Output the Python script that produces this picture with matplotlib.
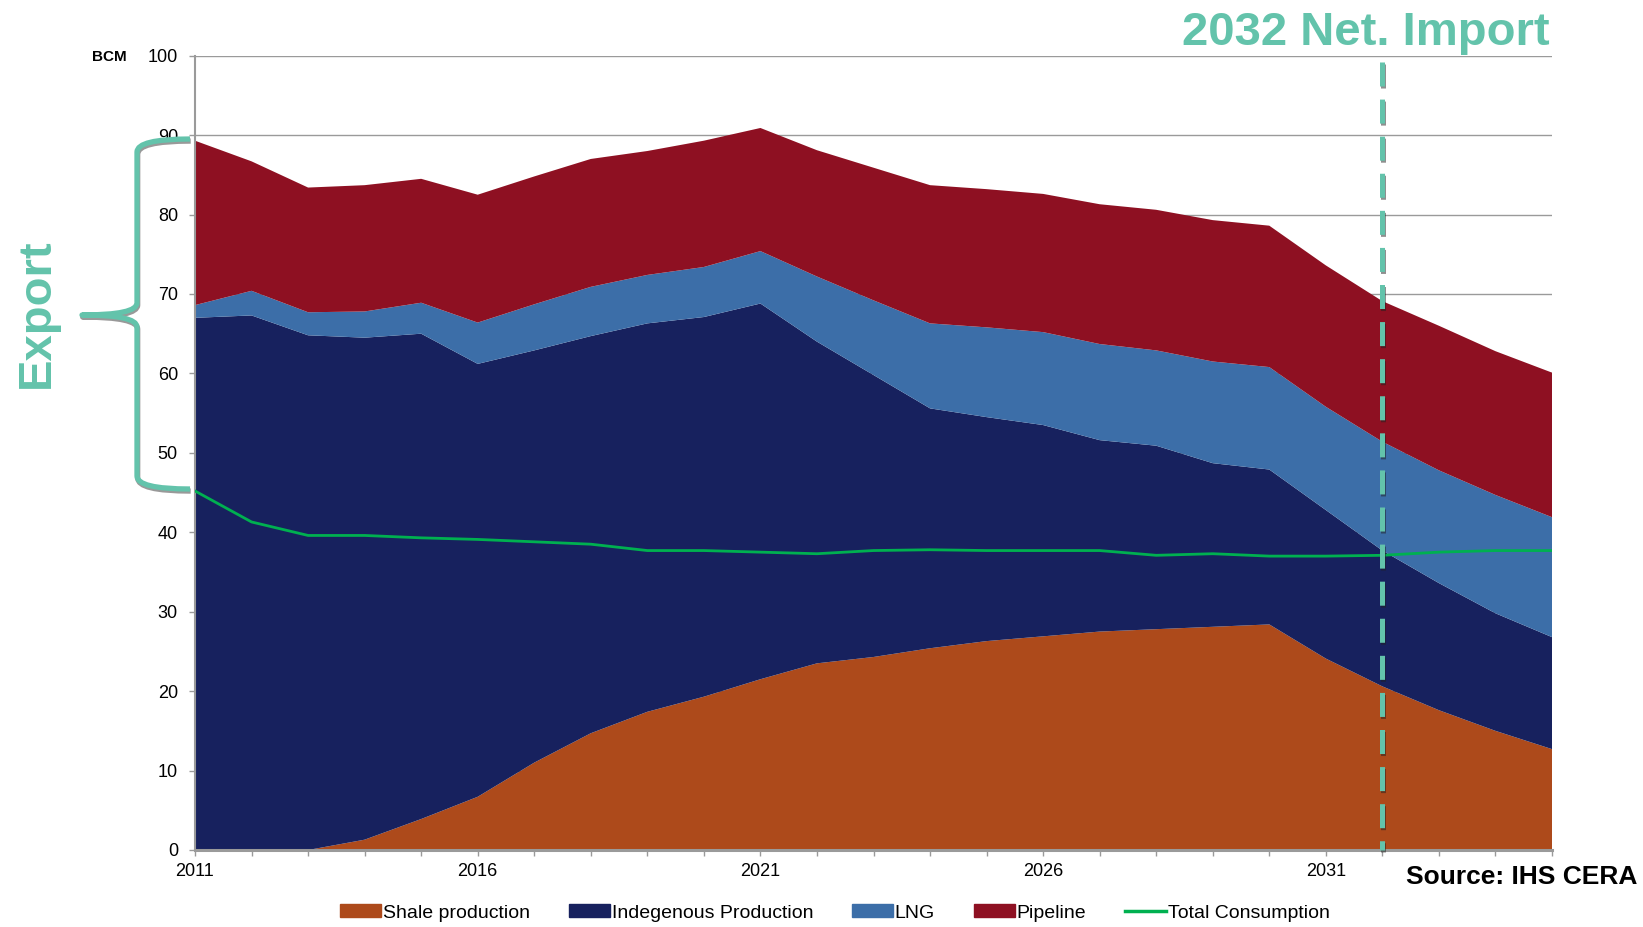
import matplotlib
matplotlib.use("Agg")
import matplotlib.pyplot as plt
import numpy as np
from matplotlib.path import Path
from matplotlib.patches import PathPatch, Patch
from matplotlib.lines import Line2D
import matplotlib.patheffects as pe

plt.rcParams['font.family'] = ['Liberation Sans', 'DejaVu Sans']
plt.rcParams['lines.scale_dashes'] = False

# ---------------- data ----------------
years = list(range(2011, 2036))
shale = [0, 0, 0, 1.3, 3.9, 6.7, 11.0, 14.7, 17.4, 19.3, 21.5, 23.5, 24.3,
         25.4, 26.3, 26.9, 27.5, 27.8, 28.1, 28.4, 24.1, 20.6, 17.6, 15.0, 12.7]
indigenous = [67.0, 67.3, 64.8, 63.2, 61.1, 54.5, 51.9, 50.0, 48.9, 47.8, 47.3,
              40.5, 35.5, 30.2, 28.2, 26.6, 24.1, 23.1, 20.6, 19.5, 18.7, 17.1,
              16.0, 14.8, 14.1]
lng = [1.6, 3.1, 2.9, 3.3, 3.9, 5.2, 5.8, 6.2, 6.1, 6.3, 6.6, 8.2, 9.4, 10.7,
       11.3, 11.7, 12.1, 12.0, 12.8, 12.9, 13.0, 13.7, 14.2, 14.9, 15.1]
pipeline = [20.7, 16.3, 15.7, 15.9, 15.6, 16.1, 16.1, 16.1, 15.6, 15.9, 15.5,
            15.9, 16.7, 17.4, 17.4, 17.4, 17.6, 17.7, 17.8, 17.8, 17.8, 17.7,
            18.2, 18.1, 18.2]
total_consumption = [45.2, 41.3, 39.6, 39.6, 39.3, 39.1, 38.8, 38.5, 37.7, 37.7,
                     37.5, 37.3, 37.7, 37.8, 37.7, 37.7, 37.7, 37.1, 37.3, 37.0,
                     37.0, 37.1, 37.5, 37.7, 37.7]
series_names = ["Shale production", "Indegenous Production", "LNG", "Pipeline",
                "Total Consumption"]
x_label_years = [2011, 2016, 2021, 2026, 2031]
y_ticks = list(range(0, 101, 10))
net_import_year = 2032

# ---------------- style ----------------
c_shale = '#AD4A1B'
c_indig = '#17215E'
c_lng = '#3C6EA8'
c_pipe = '#8E1022'
c_green = '#00B050'
c_teal = '#63C3AB'
c_grid = '#9A9A9A'

W, H = 1643, 927
fig = plt.figure(figsize=(W / 100, H / 100), dpi=100)
ax = fig.add_axes([195 / W, 1 - 850 / H, (1552 - 195) / W, (850 - 55.7) / H])

ax.stackplot(years, shale, indigenous, lng, pipeline,
             colors=[c_shale, c_indig, c_lng, c_pipe], linewidth=0, zorder=2)
ax.plot(years, total_consumption, color=c_green, lw=2.0, zorder=3)

ax.set_xlim(years[0], years[-1])
ax.set_ylim(0, 100)
ax.set_yticks(y_ticks)
ax.set_yticklabels([str(v) for v in y_ticks], fontsize=13)
ax.set_xticks(years)
ax.set_xticklabels([str(y) if y in x_label_years else '' for y in years], fontsize=13)
ax.tick_params(axis='y', direction='out', length=4.3, width=1, color=c_grid, pad=8)
ax.tick_params(axis='x', direction='out', length=4.3, width=1, color=c_grid, pad=5)
ax.grid(axis='y', color=c_grid, lw=1.0, zorder=1)
ax.set_axisbelow(True)
for s in ['top', 'right']:
    ax.spines[s].set_visible(False)
ax.spines['left'].set_color(c_grid)
ax.spines['left'].set_linewidth(1.5)
ax.spines['bottom'].set_color(c_grid)
ax.spines['bottom'].set_linewidth(2.2)
ax.spines['bottom'].set_zorder(4)

# dashed net import line
ax.plot([net_import_year, net_import_year], [99.2, 0], color=c_teal, lw=3.6,
        dashes=(17.3, 9.4), zorder=5, clip_on=False,
        path_effects=[pe.SimpleLineShadow(offset=(0.5, -1.5), shadow_color='#202020', alpha=0.5),
                      pe.Normal()])

# texts
fig.text(1549.5 / W, 1 - 45 / H, "2032 Net. Import", color=c_teal, fontsize=34,
         fontweight='bold', ha='right', va='baseline')
fig.text(127 / W, 1 - 57 / H, "BCM", fontsize=11, fontweight='bold',
         ha='right', va='center')
fig.text(1637 / W, 1 - 877 / H, "Source: IHS CERA", fontsize=19, fontweight='bold',
         ha='right', va='center')
fig.text(37 / W, 1 - 313 / H, "Export", color=c_teal, fontsize=34, fontweight='bold',
         rotation=90, ha='center', va='center')

# brace (figure pixel coords -> fraction)
pts = [(190, 139), (137, 139), (137, 152),
       (137, 303),
       (137, 315), (82, 315),
       (137, 315), (137, 327),
       (137, 476),
       (137, 489), (190, 489)]
codes = [Path.MOVETO, Path.CURVE3, Path.CURVE3,
         Path.LINETO,
         Path.CURVE3, Path.CURVE3,
         Path.CURVE3, Path.CURVE3,
         Path.LINETO,
         Path.CURVE3, Path.CURVE3]
verts = [(x / W, 1 - y / H) for x, y in pts]
brace = PathPatch(Path(verts, codes), transform=fig.transFigure, fill=False,
                  edgecolor=c_teal, lw=3.8, capstyle='butt', joinstyle='round',
                  path_effects=[pe.SimpleLineShadow(offset=(0.5, -1.5), shadow_color='#555555', alpha=0.6),
                                pe.Normal()])
fig.patches.append(brace)

# legend
handles = [Patch(color=c_shale), Patch(color=c_indig), Patch(color=c_lng),
           Patch(color=c_pipe), Line2D([0], [0], color=c_green, lw=2.5)]
fig.legend(handles, series_names, loc='center', bbox_to_anchor=(835 / W, 1 - 913 / H),
           ncol=5, frameon=False, fontsize=14, handlelength=2.1, handleheight=0.6,
           handletextpad=0.1, columnspacing=2.0, borderpad=0)

fig.savefig('out.png', dpi=100)
